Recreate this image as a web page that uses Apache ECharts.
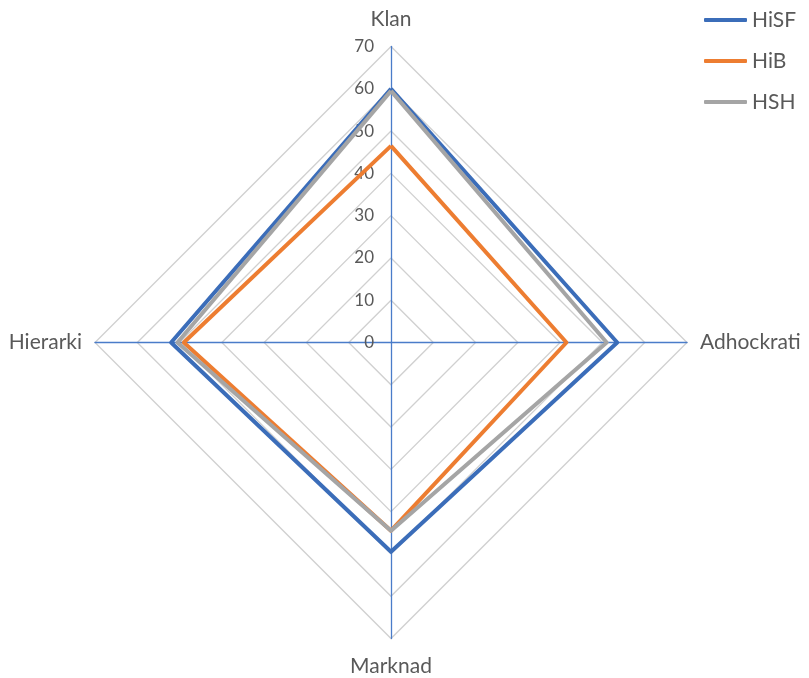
<!DOCTYPE html>
<html>
<head>
<meta charset="utf-8">
<script src="https://cdn.jsdelivr.net/npm/echarts@6/dist/echarts.min.js"></script>
<style>
  html, body { margin: 0; padding: 0; background: #ffffff; }
  #chart { width: 809px; height: 678px; }
</style>
</head>
<body>
<div id="chart"></div>
<script>
// Radar axes, listed counter-clockwise from the top (ECharts' radar direction)
const categories = ['Klan', 'Hierarki', 'Marknad', 'Adhockrati'];
const axisMax = 70;
const tickStep = 10;

const seriesNames = ['HiSF', 'HiB', 'HSH'];
const hisf = [60, 52, 49.5, 53.5];
const hib  = [46.5, 49, 44.5, 41.5];
const hsh  = [59.5, 50.5, 44.5, 51];
const colors = ['#3b6db9', '#ed7d31', '#a5a5a5'];

const textColor = '#595959';
const fontFamily = 'Lato, "Noto Sans", sans-serif';

const values = [hisf, hib, hsh];

const chart = echarts.init(document.getElementById('chart'), null, { renderer: 'canvas' });

const indicator = categories.map((name, i) => {
  const item = { name: name, min: 0, max: axisMax };
  if (i === 0) {
    // tick values are only printed along the top axis
    item.axisLabel = {
      show: true,
      color: textColor,
      fontSize: 17,
      fontFamily: fontFamily,
      margin: 17
    };
  }
  return item;
});

chart.setOption({
  animation: false,
  backgroundColor: '#ffffff',
  legend: {
    orient: 'vertical',
    left: 699,
    top: 3,
    itemWidth: 43,
    itemHeight: 4,
    itemGap: 17,
    icon: 'roundRect',
    data: seriesNames,
    textStyle: {
      color: textColor,
      fontSize: 21,
      lineHeight: 24,
      fontFamily: fontFamily
    }
  },
  radar: {
    center: [391, 342.5],
    radius: 296,
    startAngle: 90,
    splitNumber: axisMax / tickStep,
    shape: 'polygon',
    nameGap: 13,
    indicator: indicator,
    axisName: {
      color: textColor,
      fontSize: 21,
      fontFamily: fontFamily,
      padding: [4, 0, 4, 0]
    },
    axisLine: { lineStyle: { color: '#4a7cc9', width: 1.3 } },
    axisTick: { show: false },
    axisLabel: { show: false },
    splitLine: { lineStyle: { color: '#d0d0d0', width: 1.3 } },
    splitArea: { show: false }
  },
  series: seriesNames.map((name, i) => ({
    type: 'radar',
    name: name,
    symbol: 'none',
    z: 2 + i,
    lineStyle: { color: colors[i], width: 4 },
    itemStyle: { color: colors[i] },
    data: [{ name: name, value: values[i] }]
  }))
});
</script>
</body>
</html>
